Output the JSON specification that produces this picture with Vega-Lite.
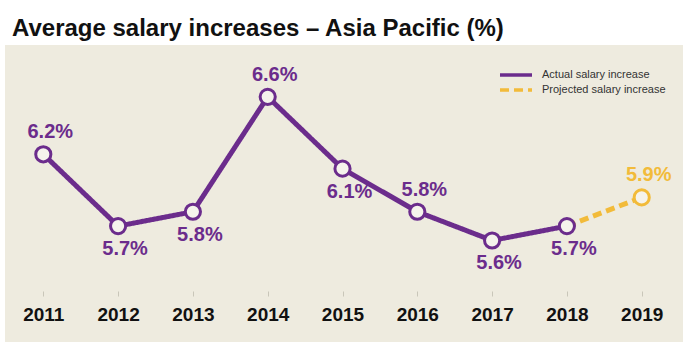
{
  "$schema": "https://vega.github.io/schema/vega-lite/v6.json",
  "width": 678,
  "height": 297,
  "autosize": {"type": "none"},
  "padding": {"left": 5, "top": 45, "right": 17, "bottom": 9},
  "background": "#ffffff",
  "title": {
    "text": "Average salary increases – Asia Pacific (%)",
    "anchor": "start",
    "frame": "group",
    "font": "Liberation Sans",
    "fontSize": 24,
    "fontWeight": "bold",
    "color": "#111111",
    "dx": 7,
    "dy": 30,
    "offset": 15,
    "baseline": "alphabetic"
  },
  "config": {
    "view": {"fill": "#eeebdf", "stroke": null}
  },
  "data": {
    "values": [
      {"year": 2011, "value": 6.2, "label": "6.2%", "series": "Actual salary increase"},
      {"year": 2012, "value": 5.7, "label": "5.7%", "series": "Actual salary increase"},
      {"year": 2013, "value": 5.8, "label": "5.8%", "series": "Actual salary increase"},
      {"year": 2014, "value": 6.6, "label": "6.6%", "series": "Actual salary increase"},
      {"year": 2015, "value": 6.1, "label": "6.1%", "series": "Actual salary increase"},
      {"year": 2016, "value": 5.8, "label": "5.8%", "series": "Actual salary increase"},
      {"year": 2017, "value": 5.6, "label": "5.6%", "series": "Actual salary increase"},
      {"year": 2018, "value": 5.7, "label": "5.7%", "series": "Actual salary increase"},
      {"year": 2018, "value": 5.7, "label": "5.7%", "series": "Projected salary increase"},
      {"year": 2019, "value": 5.9, "label": "5.9%", "series": "Projected salary increase"}
    ]
  },
  "encoding": {
    "x": {
      "field": "year",
      "type": "quantitative",
      "scale": {"domain": [2010.488, 2019.552], "nice": false, "zero": false},
      "axis": {
        "values": [2011, 2012, 2013, 2014, 2015, 2016, 2017, 2018, 2019],
        "format": "d",
        "title": null,
        "offset": -46,
        "domain": false,
        "grid": false,
        "ticks": true,
        "tickSize": -5,
        "tickColor": "#c9c6b9",
        "tickWidth": 1,
        "labelFont": "Liberation Sans",
        "labelFontSize": 19,
        "labelFontWeight": "bold",
        "labelColor": "#111111",
        "labelPadding": 14,
        "labelFlush": false,
        "labelOverlap": false
      }
    },
    "y": {
      "field": "value",
      "type": "quantitative",
      "scale": {"domain": [4.893, 6.961], "nice": false, "zero": false},
      "axis": null
    }
  },
  "layer": [
    {
      "data": {"values": [{}]},
      "mark": {"type": "rule", "color": "#c9c6b9", "strokeWidth": 1.5},
      "encoding": {
        "x": {"datum": 2010.78, "type": "quantitative"},
        "x2": {"datum": 2019.26},
        "y": {"datum": 5.215, "type": "quantitative"}
      }
    },
    {
      "mark": {"type": "line", "strokeWidth": 5},
      "encoding": {
        "color": {
          "field": "series",
          "type": "nominal",
          "scale": {"domain": ["Actual salary increase", "Projected salary increase"], "range": ["#6b2c8c", "#f2bb3a"]},
          "legend": {
            "title": null,
            "orient": "none",
            "legendX": 503,
            "legendY": 22,
            "symbolType": "M-2.667,0H2.667",
            "symbolSize": 144,
            "symbolStrokeWidth": 3.5,
            "labelFont": "Liberation Sans",
            "labelFontSize": 11,
            "labelColor": "#333333",
            "labelOffset": 18,
            "padding": 0,
            "rowPadding": 0
          }
        },
        "strokeDash": {
          "field": "series",
          "type": "nominal",
          "scale": {"domain": ["Actual salary increase", "Projected salary increase"], "range": [[1, 0], [9, 5]]},
          "legend": {
            "title": null,
            "orient": "none",
            "legendX": 503,
            "legendY": 22,
            "symbolType": "M-2.667,0H2.667",
            "symbolSize": 144,
            "symbolStrokeWidth": 3.5,
            "labelFont": "Liberation Sans",
            "labelFontSize": 11,
            "labelColor": "#333333",
            "labelOffset": 18,
            "padding": 0,
            "rowPadding": 0
          }
        }
      }
    },
    {
      "transform": [{"filter": "!(datum.year == 2018 && datum.series == 'Projected salary increase')"}],
      "mark": {"type": "point", "shape": "circle", "size": 230, "filled": true, "fill": "#f5f3ec", "strokeWidth": 3, "opacity": 1},
      "encoding": {
        "stroke": {
          "condition": {"test": "datum.series == 'Projected salary increase'", "value": "#f2bb3a"},
          "value": "#6b2c8c"
        }
      }
    },
    {
      "transform": [
        {"filter": "!(datum.year == 2018 && datum.series == 'Projected salary increase')"},
        {"filter": "indexof([2011, 2014, 2016, 2019], datum.year) >= 0"}
      ],
      "mark": {"type": "text", "font": "Liberation Sans", "fontSize": 20, "fontWeight": "bold", "align": "center", "baseline": "middle", "dx": 7, "dy": -22},
      "encoding": {
        "text": {"field": "label"},
        "color": {
          "condition": {"test": "datum.series == 'Projected salary increase'", "value": "#f2bb3a"},
          "value": "#6b2c8c"
        }
      }
    },
    {
      "transform": [
        {"filter": "!(datum.year == 2018 && datum.series == 'Projected salary increase')"},
        {"filter": "indexof([2011, 2014, 2016, 2019], datum.year) < 0"}
      ],
      "mark": {"type": "text", "font": "Liberation Sans", "fontSize": 20, "fontWeight": "bold", "align": "center", "baseline": "middle", "dx": 7, "dy": 23},
      "encoding": {
        "text": {"field": "label"},
        "color": {"value": "#6b2c8c"}
      }
    }
  ]
}
